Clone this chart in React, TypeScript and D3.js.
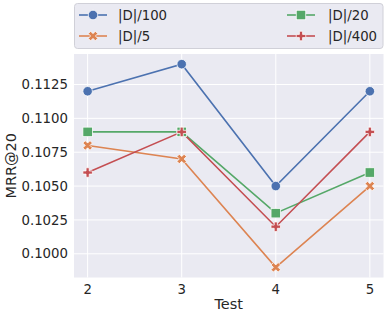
import React from "react";
import * as d3 from "d3";

const tests = [2, 3, 4, 5];
const seriesNames = ["|D|/100", "|D|/5", "|D|/20", "|D|/400"];
const d100 = [0.112, 0.114, 0.105, 0.112];
const d5 = [0.108, 0.107, 0.099, 0.105];
const d20 = [0.109, 0.109, 0.103, 0.106];
const d400 = [0.106, 0.109, 0.102, 0.109];
const yTicks = [0.1, 0.1025, 0.105, 0.1075, 0.11, 0.1125];
const colors = ["#4C72B0", "#DD8452", "#55A868", "#C44E52"];
const markers = ["circle", "x", "square", "plus"];

const W = 390, H = 317;
const L = 74, R = 383.5, T = 54, B = 277.5;
const FONT = "DejaVu Sans, sans-serif";

const plusPts = [[-1,-3],[1,-3],[1,-1],[3,-1],[3,1],[1,1],[1,3],[-1,3],[-1,1],[-3,1],[-3,-1],[-1,-1]].map(([a, b]) => [a / 6, b / 6]);
const xPts = [[-1,-2],[0,-1],[1,-2],[2,-1],[1,0],[2,1],[1,2],[0,1],[-1,2],[-2,1],[-1,0],[-2,-1]].map(([a, b]) => [a / 4, b / 4]);

function Marker({ type, x, y, color, size = 9.5 }: any) {
  const s = size;
  const common = { fill: color, stroke: "#fff", strokeWidth: 0.75 };
  if (type === "circle") return <circle cx={x} cy={y} r={s / 2} {...common} />;
  if (type === "square") return <rect x={x - s / 2} y={y - s / 2} width={s} height={s} {...common} />;
  const base = type === "x" ? xPts : plusPts;
  const pts = base.map(([a, b]) => [x + a * s, y + b * s]);
  return <path d={"M" + pts.map((p) => p.join(",")).join("L") + "Z"} {...common} />;
}

export default function App() {
  const x = d3.scaleLinear().domain([1.855, 5.145]).range([L, R]);
  const y = d3.scaleLinear().domain([0.09825, 0.11475]).range([B, T]);
  const data = [d100, d5, d20, d400];
  const line = d3.line<number>().x((_, i) => x(tests[i])).y((d) => y(d));
  const fmt = d3.format(".4f");
  const legendCols = [
    { idx: [0, 1], hx: 79, tx: 118 },
    { idx: [2, 3], hx: 287, tx: 328 },
  ];
  const rowsY = [15, 36];
  return (
    <svg width={W} height={H} style={{ position: "absolute", left: 0, top: 0 }} fontFamily={FONT}>
      <rect x={0} y={0} width={W} height={H} fill="#fff" />
      <rect x={L} y={T} width={R - L} height={B - T} fill="#EAEAF2" />
      {yTicks.map((t) => (
        <g key={t}>
          <line x1={L} x2={R} y1={y(t)} y2={y(t)} stroke="#fff" strokeWidth={1} />
          <text x={L - 6} y={y(t)} dy="0.35em" textAnchor="end" fontSize={13.3} fill="#262626">{fmt(t)}</text>
        </g>
      ))}
      {tests.map((t) => (
        <g key={t}>
          <line x1={x(t)} x2={x(t)} y1={T} y2={B} stroke="#fff" strokeWidth={1} />
          <text x={x(t)} y={B + 16} textAnchor="middle" fontSize={13.3} fill="#262626">{t}</text>
        </g>
      ))}
      <text x={(L + R) / 2} y={309} textAnchor="middle" fontSize={14.5} fill="#262626">Test</text>
      <text transform={`translate(16,${(T + B) / 2}) rotate(-90)`} textAnchor="middle" fontSize={14.5} fill="#262626">MRR@20</text>
      {data.map((d, si) => (
        <path key={si} d={line(d) || ""} fill="none" stroke={colors[si]} strokeWidth={1.6} />
      ))}
      {data.map((d, si) =>
        d.map((v, i) => (
          <Marker key={si + "-" + i} type={markers[si]} x={x(tests[i])} y={y(v)} color={colors[si]} />
        ))
      )}
      <rect x={74.5} y={3.5} width={308.5} height={45} rx={3} fill="#EAEAF2" stroke="#d0d0d8" strokeWidth={1} />
      {legendCols.map((c, ci) =>
        c.idx.map((si, ri) => (
          <g key={ci + "-" + ri}>
            <line x1={c.hx} x2={c.hx + 28} y1={rowsY[ri]} y2={rowsY[ri]} stroke={colors[si]} strokeWidth={1.6} />
            <Marker type={markers[si]} x={c.hx + 14} y={rowsY[ri]} color={colors[si]} />
            <text x={c.tx} y={rowsY[ri]} dy="0.35em" fontSize={13.3} fill="#262626">{seriesNames[si]}</text>
          </g>
        ))
      )}
    </svg>
  );
}
